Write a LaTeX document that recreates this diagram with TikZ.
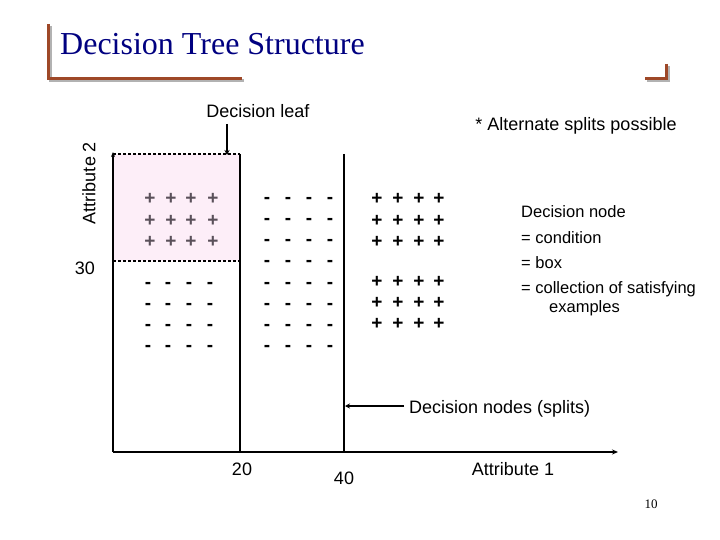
\documentclass[tikz,border=0pt]{standalone}
\usepackage{fontspec}
\setmainfont{Liberation Sans}
\newfontfamily\seriffont{Liberation Serif}
\usetikzlibrary{arrows.meta}
\definecolor{titleblue}{RGB}{0,0,128}
\definecolor{bracketbrown}{RGB}{158,72,40}
\definecolor{leafpink}{RGB}{253,238,248}
\definecolor{plusgray}{RGB}{90,80,90}
\begin{document}
\begin{tikzpicture}[x=1pt,y=-1pt,
  lbl/.style={inner sep=0pt, font=\fontsize{18}{21}\selectfont},
  sidelbl/.style={inner sep=0pt, anchor=west, font=\fontsize{16.5}{19}\selectfont},
  signmark/.style={inner sep=0pt, font=\fontsize{19}{20}\selectfont\bfseries},
  axisline/.style={line width=2pt},
  splitline/.style={line width=2.4pt},
  leafedge/.style={line width=1.5pt, dash pattern=on 3pt off 2pt},
  pointer/.style={line width=1.5pt, -{Stealth[length=5pt,width=5pt]}},
  bracket/.style={line width=3pt, bracketbrown},
  bracketshadow/.style={line width=3pt, black!30}]
\useasboundingbox (0,0) rectangle (720,540);
% title and brackets
\node[inner sep=0pt, anchor=west, text=titleblue, font=\seriffont\fontsize{32}{36}\selectfont] (title) at (60,44) {Decision Tree Structure};
\draw[bracketshadow] (50,26) -- (50,81) -- (244,81);
\draw[bracket] (48,24) -- (48,79) -- (242,79);
\draw[bracketshadow] (668,66) -- (668,81) -- (647,81);
\draw[bracket] (666,64) -- (666,79) -- (645,79);
% coordinates
\coordinate (O) at (113,452);
\coordinate (ytop) at (113,152);
\coordinate (xend) at (618,452);
\coordinate (s20top) at (240,154);
\coordinate (s20bot) at (240,452);
\coordinate (s40top) at (344,154);
\coordinate (s40bot) at (344,452);
\coordinate (leafTL) at (113,154);
\coordinate (leafBR) at (240,261);
\coordinate (cut30L) at (113,261);
% leaf box
\fill[leafpink] (leafTL) rectangle (leafBR);
\draw[leafedge] (leafTL) -- (s20top);
\draw[leafedge] (cut30L) -- (leafBR);
% axes and splits
\draw[axisline, -{Stealth[length=5pt,width=4pt]}] (O) -- (ytop);
\draw[axisline, -{Stealth[length=6pt,width=5pt]}] (O) -- (xend);
\draw[splitline] (s20top) -- (s20bot);
\draw[splitline] (s40top) -- (s40bot);
% pluses in leaf
\foreach \x [count=\i] in {150,171,191,213}
  \foreach \y [count=\j] in {199,221,242}
    \node[signmark, text=plusgray] (lp\i\j) at (\x,\y) {+};
% minuses below leaf
\foreach \x [count=\i] in {148,168,189,210}
  \foreach \y [count=\j] in {285,306,327,348}
    \node[signmark] (lm\i\j) at (\x,\y) {-};
% minuses middle band
\foreach \x [count=\i] in {267,288,309,330}
  \foreach \y [count=\j] in {200,221,242,263,285,306,327,348}
    \node[signmark] (mm\i\j) at (\x,\y) {-};
% pluses right
\foreach \x [count=\i] in {377,398,419,439}
  \foreach \y [count=\j] in {199,221,242,282,303,324}
    \node[signmark] (rp\i\j) at (\x,\y) {+};
% labels
\node[lbl] (leaflbl) at (258,111) {Decision leaf};
\coordinate (leafarrowtop) at (227,124);
\coordinate (leafarrowtip) at (227,155);
\draw[pointer] (leafarrowtop) -- (leafarrowtip);
\node[lbl] (alt) at (576,126) {* Alternate splits possible};
\node[lbl, rotate=90] (att2) at (89,183) {Attribute 2};
\node[lbl] (t30) at (85,268) {30};
\node[lbl] (t20) at (242,469) {20};
\node[lbl] (t40) at (344,478) {40};
\node[lbl] (att1) at (513,469) {Attribute 1};
\node[lbl, anchor=west] (splits) at (409,409) {Decision nodes (splits)};
\coordinate (splitarrowstart) at (404,406);
\coordinate (splitarrowtip) at (345,406);
\draw[pointer] (splitarrowstart) -- (splitarrowtip);
\node[sidelbl] (dn) at (521,212) {Decision node};
\node[sidelbl] (cond) at (521,238) {= condition};
\node[sidelbl] (box) at (521,263) {= box};
\node[sidelbl] (coll) at (521,289) {= collection of satisfying};
\node[sidelbl] (ex) at (549,308) {examples};
\node[inner sep=0pt, font=\seriffont\fontsize{13}{15}\selectfont] (pg) at (651,504) {10};
\end{tikzpicture}
\end{document}
